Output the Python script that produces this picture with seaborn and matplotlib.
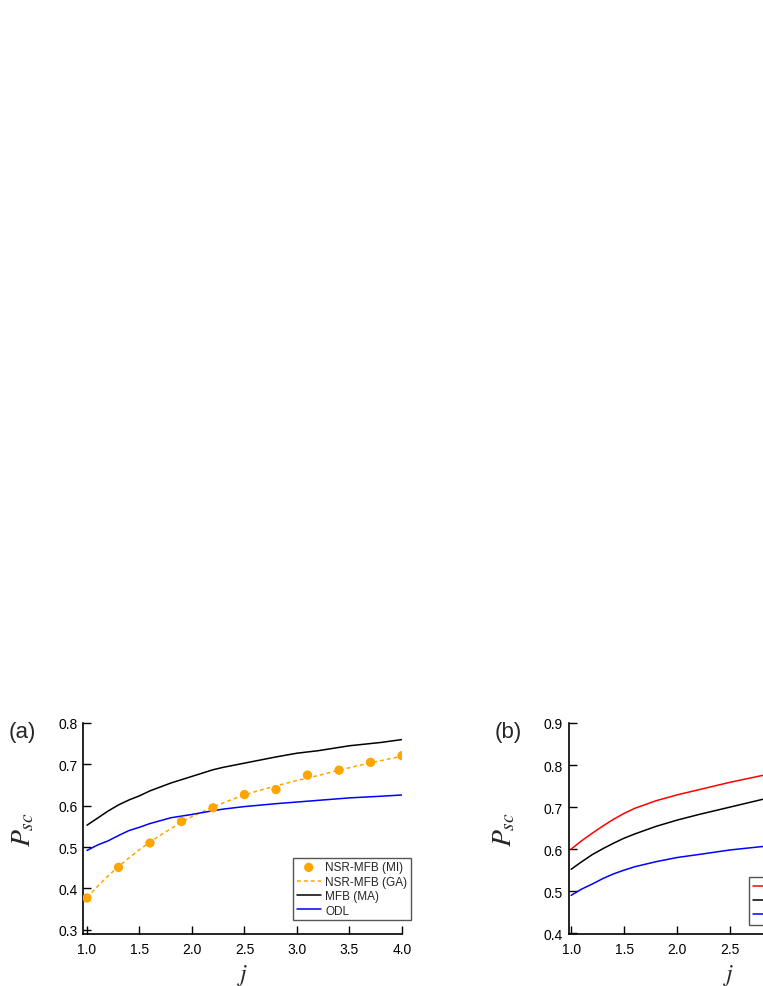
import numpy as np
import pandas as pd
import seaborn as sns
from matplotlib import pyplot as plt

sns.set_style('ticks')
plt.rcParams['font.family'] = ['Liberation Sans', 'DejaVu Sans']
plt.rcParams['mathtext.fontset'] = 'stix'

# panel (a) data
j_mi = [1.0, 1.3, 1.6, 1.9, 2.2, 2.5, 2.8, 3.1, 3.4, 3.7, 4.0]
p_mi = [0.377, 0.451, 0.510, 0.562, 0.595, 0.627, 0.639, 0.674, 0.686, 0.705, 0.721]

j_ga = [1.0, 1.1, 1.2, 1.3, 1.4, 1.5, 1.6, 1.7, 1.8, 1.9, 2.0, 2.2, 2.4, 2.6, 2.8, 3.0, 3.2, 3.4, 3.6, 3.8, 4.0]
p_ga = [0.378, 0.405, 0.430, 0.453, 0.474, 0.494, 0.512, 0.529, 0.545, 0.560, 0.574, 0.597, 0.617, 0.634,
        0.648, 0.661, 0.673, 0.686, 0.698, 0.709, 0.720]

j_line = [1.0, 1.1, 1.2, 1.3, 1.4, 1.5, 1.6, 1.8, 2.0, 2.2, 2.3, 2.5, 2.8, 3.0, 3.2, 3.5, 3.8, 4.0]
p_mfb = [0.553, 0.570, 0.587, 0.602, 0.614, 0.624, 0.636, 0.655, 0.671, 0.687, 0.693, 0.703, 0.718,
         0.727, 0.733, 0.745, 0.753, 0.760]
p_odl = [0.492, 0.505, 0.515, 0.528, 0.540, 0.548, 0.557, 0.571, 0.579, 0.588, 0.592, 0.598, 0.605,
         0.609, 0.613, 0.619, 0.623, 0.626]

# panel (b) data (red curve only partly visible)
j_b = [1.0, 1.1, 1.2, 1.3, 1.4, 1.5, 1.6, 1.8, 2.0, 2.2, 2.5, 2.8, 3.0, 3.5, 4.0]
p_red = [0.600, 0.620, 0.638, 0.655, 0.671, 0.685, 0.697, 0.715, 0.729, 0.741, 0.759, 0.775,
         0.783, 0.800, 0.815]
p_blk = [0.552, 0.570, 0.587, 0.601, 0.614, 0.626, 0.636, 0.654, 0.669, 0.682, 0.700, 0.718,
         0.727, 0.745, 0.760]
p_blu = [0.490, 0.505, 0.517, 0.530, 0.541, 0.550, 0.558, 0.570, 0.580, 0.587, 0.598, 0.606,
         0.610, 0.619, 0.626]

W, H = 763, 987
fig = plt.figure(figsize=(W / 100, H / 100), dpi=100)
ax1 = fig.add_axes([83 / W, 1 - 935 / H, 319 / W, 211 / H])
ax2 = fig.add_axes([568.5 / W, 1 - 935 / H, 320.6 / W, 211 / H])

# (a)
sns.scatterplot(x=j_mi, y=p_mi, ax=ax1, color='orange', s=45, edgecolor='none',
                label='NSR-MFB (MI)', zorder=4)
sns.lineplot(x=j_ga, y=p_ga, ax=ax1, color='orange', lw=1.1, label='NSR-MFB (GA)')
ax1.lines[-1].set_linestyle((0, (2.5, 2)))
sns.lineplot(x=j_line, y=p_mfb, ax=ax1, color='black', lw=1.1, label='MFB (MA)')
sns.lineplot(x=j_line, y=p_odl, ax=ax1, color='blue', lw=1.1, label='ODL')
ax1.set_xlim(0.962, 4.0)
ax1.set_ylim(0.29, 0.8)
ax1.set_yticks([0.3, 0.4, 0.5, 0.6, 0.7, 0.8])
ax1.set_xticks([1.0, 1.5, 2.0, 2.5, 3.0, 3.5, 4.0])

# (b) - the right part lies beyond the page, as in the original
sns.lineplot(x=j_b, y=p_red, ax=ax2, color='red', lw=1.1, label='NSR-MFB (GA)')
sns.lineplot(x=j_b, y=p_blk, ax=ax2, color='black', lw=1.1, label='MFB (MA)')
sns.lineplot(x=j_b, y=p_blu, ax=ax2, color='blue', lw=1.1, label='ODL')
ax2.set_xlim(0.975, 4.0)
ax2.set_ylim(0.398, 0.9)
ax2.set_yticks([0.4, 0.5, 0.6, 0.7, 0.8, 0.9])
ax2.set_xticks([1.0, 1.5, 2.0, 2.5])

for ax in (ax1, ax2):
    sns.despine(ax=ax)
    ax.xaxis.set_major_formatter(plt.FormatStrFormatter('%.1f'))
    ax.yaxis.set_major_formatter(plt.FormatStrFormatter('%.1f'))
    ax.tick_params(direction='in', length=6, width=1, labelsize=10, colors='black')
    ax.tick_params(axis='x', pad=6)
    ax.tick_params(axis='y', pad=4)
    for s in ('left', 'bottom'):
        ax.spines[s].set_linewidth(1.2)
        ax.spines[s].set_color('black')
    ax.set_xlabel('$j$', fontsize=17)
    ax.set_ylabel('$P_{sc}$', fontsize=20)
    ax.xaxis.set_label_coords(0.5, -0.135)

ax1.yaxis.set_label_coords(-0.145, 0.5)
ax2.yaxis.set_label_coords(-0.16, 0.5)

leg_kw = dict(fontsize=8.5, frameon=True, fancybox=False, framealpha=1, edgecolor='#555555',
              borderaxespad=0, handlelength=2.0, handletextpad=0.4, labelspacing=0.2,
              borderpad=0.3)
leg1 = ax1.legend(loc='lower right', bbox_to_anchor=(1.028, 0.066), **leg_kw)
leg2 = ax2.legend(loc='lower left', bbox_to_anchor=(0.563, 0.043), **leg_kw)
for leg in (leg1, leg2):
    leg.get_frame().set_linewidth(1.0)

fig.text(22 / W, 1 - 733 / H, '(a)', fontsize=16, ha='center', va='center')
fig.text(508 / W, 1 - 733 / H, '(b)', fontsize=16, ha='center', va='center')

fig.savefig('out.png', dpi=100, facecolor='white')
